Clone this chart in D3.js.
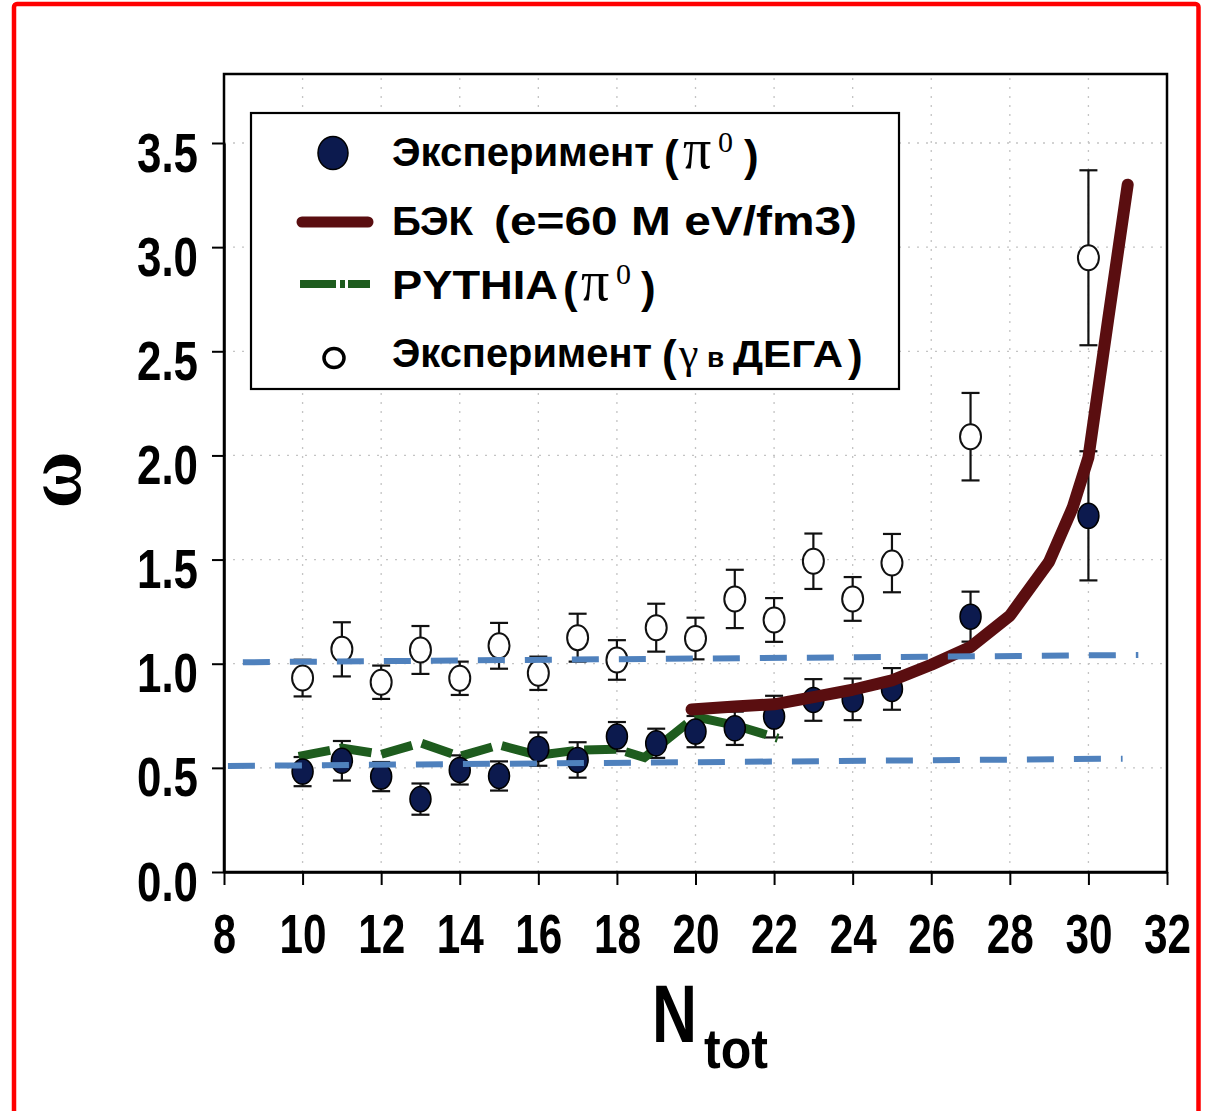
<!DOCTYPE html>
<html><head><meta charset="utf-8">
<script src="https://cdnjs.cloudflare.com/ajax/libs/d3/7.8.5/d3.min.js"></script>
<style>
html,body{margin:0;padding:0;background:#fff;}
svg{display:block;}
text{font-family:"Liberation Sans",Arial,sans-serif;font-weight:bold;fill:#000;}
</style></head>
<body>
<script>
// ---- data ----
const nTot = [10,11,12,13,14,15,16,17,18,19,20,21,22,23,24,25,27,30];
const omegaPi0 = [0.482,0.534,0.458,0.350,0.490,0.461,0.590,0.538,0.650,0.618,0.674,0.690,0.746,0.826,0.829,0.879,1.226,1.710];
const errPi0   = [0.07,0.095,0.07,0.075,0.07,0.07,0.08,0.085,0.07,0.07,0.075,0.08,0.10,0.10,0.10,0.10,0.12,0.31];
const omegaGamma = [0.931,1.069,0.911,1.066,0.930,1.086,0.954,1.125,1.018,1.173,1.121,1.311,1.210,1.492,1.311,1.483,2.090,2.949];
const errGamma   = [0.088,0.13,0.08,0.115,0.08,0.11,0.08,0.115,0.095,0.115,0.10,0.14,0.105,0.133,0.105,0.14,0.21,0.42];
const becX = [19.9,21,22,23,24,25,26,27,28,29,29.6,30,30.5,31];
const becY = [0.78,0.795,0.805,0.84,0.875,0.92,0.995,1.08,1.23,1.49,1.75,1.99,2.65,3.30];
const pythiaX = [9.9,11,12,13,14,15,16,17,18,18.7,20,21,22.1];
const pythiaY = [0.555,0.595,0.565,0.62,0.555,0.61,0.56,0.585,0.59,0.55,0.745,0.705,0.642];
const refUpperX = [8.48,31.27], refUpperY = [1.007,1.042];
const refLowerX = [8.10,30.87], refLowerY = [0.509,0.544];
const xTicks = [8,10,12,14,16,18,20,22,24,26,28,30,32];
const yTicks = [0,0.5,1.0,1.5,2.0,2.5,3.0,3.5];

// ---- drawing ----
const W=1208,H=1111;
const svg=d3.select("body").append("svg").attr("width",W).attr("height",H);
const x=d3.scaleLinear().domain([8,32]).range([224,1167]);
const y=d3.scaleLinear().domain([0,3.5]).range([872,143]);

// red border
svg.append("rect").attr("x",14).attr("y",4).attr("width",1184.5).attr("height",1200)
  .attr("rx",3).attr("fill","none").attr("stroke","#ff0000").attr("stroke-width",4.5);

// grid
const grid=svg.append("g").attr("stroke","#c4c4c4").attr("stroke-width",1.3).attr("stroke-dasharray","2,7");
grid.selectAll(".vg").data(xTicks.filter(d=>d>8&&d<32)).join("line")
  .attr("x1",d=>x(d)).attr("x2",d=>x(d)).attr("y1",y(3.5)-65).attr("y2",y(0));
grid.selectAll(".hg").data(yTicks.filter(d=>d>0)).join("line")
  .attr("x1",x(8)).attr("x2",x(32)).attr("y1",d=>y(d)).attr("y2",d=>y(d));

// frame
svg.append("rect").attr("x",224).attr("y",74).attr("width",943).attr("height",798)
  .attr("fill","none").attr("stroke","#000").attr("stroke-width",2.5);

// axes
const ya=svg.append("g").attr("transform","translate(224,0)")
  .call(d3.axisLeft(y).tickValues(yTicks).tickFormat(d3.format(".1f")).tickSize(12).tickSizeOuter(0));
ya.select(".domain").attr("stroke-width",2.5);
ya.selectAll(".tick line").attr("stroke-width",2);
ya.selectAll(".tick text").attr("x",-26).attr("dy",null).attr("y",28)
  .style("font-size","56px").style("font-family","Liberation Sans, Arial, sans-serif").style("font-weight","bold")
  .attr("text-anchor","end").attr("textLength",61).attr("lengthAdjust","spacingAndGlyphs");

const xa=svg.append("g").attr("transform","translate(0,872)")
  .call(d3.axisBottom(x).tickValues(xTicks).tickFormat(d3.format("d")).tickSize(13).tickSizeOuter(0));
xa.select(".domain").attr("stroke-width",2.5);
xa.selectAll(".tick line").attr("stroke-width",2);
xa.selectAll(".tick text").attr("dy",null).attr("y",81)
  .style("font-size","56px").style("font-family","Liberation Sans, Arial, sans-serif").style("font-weight","bold")
  .attr("textLength",d=>String(d).length===1?23:47).attr("lengthAdjust","spacingAndGlyphs");

// axis titles
svg.append("text").attr("transform","translate(80,480) rotate(-90)").attr("text-anchor","middle")
  .style("font-size","78px").style("font-family","Liberation Serif, DejaVu Serif, serif").text("ω");
svg.append("text").attr("x",652).attr("y",1042).style("font-size","81px")
  .attr("textLength",45).attr("lengthAdjust","spacingAndGlyphs").text("N");
svg.append("text").attr("x",704).attr("y",1068).style("font-size","56px")
  .attr("textLength",64).attr("lengthAdjust","spacingAndGlyphs").text("tot");

// error bars
function errBars(vals,errs){
  const g=svg.append("g").attr("stroke","#111").attr("stroke-width",2.2);
  nTot.forEach((n,i)=>{
    const cx=x(n),t=y(vals[i]+errs[i]),b=y(vals[i]-errs[i]);
    g.append("line").attr("x1",cx).attr("x2",cx).attr("y1",t).attr("y2",b);
    g.append("line").attr("x1",cx-9).attr("x2",cx+9).attr("y1",t).attr("y2",t);
    g.append("line").attr("x1",cx-9).attr("x2",cx+9).attr("y1",b).attr("y2",b);
  });
}
errBars(omegaGamma,errGamma);
errBars(omegaPi0,errPi0);

// open markers
svg.append("g").selectAll("ellipse").data(nTot).join("ellipse")
  .attr("cx",d=>x(d)).attr("cy",(d,i)=>y(omegaGamma[i])).attr("rx",10.5).attr("ry",12.5)
  .attr("fill","#fff").attr("stroke","#111").attr("stroke-width",2);

// PYTHIA line
const line=d3.line().x(d=>x(d[0])).y(d=>y(d[1]));
svg.append("path").datum(pythiaX.map((v,i)=>[v,pythiaY[i]])).attr("d",line)
  .attr("fill","none").attr("stroke","#1e5c1e").attr("stroke-width",9).attr("stroke-dasharray","32,10");

// filled markers
svg.append("g").selectAll("ellipse").data(nTot).join("ellipse")
  .attr("cx",d=>x(d)).attr("cy",(d,i)=>y(omegaPi0[i])).attr("rx",10.5).attr("ry",12.5)
  .attr("fill","#0c1a4e").attr("stroke","#000").attr("stroke-width",1.5);

// BEC line
svg.append("path").datum(becX.map((v,i)=>[v,becY[i]])).attr("d",line)
  .attr("fill","none").attr("stroke","#5a0e10").attr("stroke-width",12)
  .attr("stroke-linecap","round").attr("stroke-linejoin","round");

// reference dashed lines
[[refUpperX,refUpperY],[refLowerX,refLowerY]].forEach(([xs,ys])=>{
  svg.append("path").datum(xs.map((v,i)=>[v,ys[i]])).attr("d",line)
    .attr("fill","none").attr("stroke","#4f81bd").attr("stroke-width",6).attr("stroke-dasharray","27,20");
});

// legend
const lg=svg.append("g");
lg.append("rect").attr("x",251).attr("y",113).attr("width",648).attr("height",276)
  .attr("fill","#fff").attr("stroke","#000").attr("stroke-width",2.2);
lg.append("ellipse").attr("cx",333).attr("cy",153).attr("rx",15).attr("ry",16.5)
  .attr("fill","#0c1a4e").attr("stroke","#000").attr("stroke-width",1.5);
lg.append("line").attr("x1",302).attr("x2",368).attr("y1",222).attr("y2",222)
  .attr("stroke","#5a0e10").attr("stroke-width",11).attr("stroke-linecap","round");
lg.append("line").attr("x1",300).attr("x2",370).attr("y1",284).attr("y2",284)
  .attr("stroke","#1e5c1e").attr("stroke-width",8).attr("stroke-dasharray","36,4,5,3,30");
lg.append("ellipse").attr("cx",334).attr("cy",358).attr("rx",10).attr("ry",9.5)
  .attr("fill","#fff").attr("stroke","#000").attr("stroke-width",3.5);

function t(xp,yp,str,size,len,fam,weight){
  const e=lg.append("text").attr("x",xp).attr("y",yp).style("font-size",size+"px").text(str);
  if(len) e.attr("textLength",len).attr("lengthAdjust","spacingAndGlyphs");
  if(fam) e.style("font-family",fam);
  if(weight) e.style("font-weight",weight);
  return e;
}
const serif="Liberation Serif, DejaVu Serif, serif";
// row 1
t(392,166,"Эксперимент",40,262);
t(664,171,"(",44,null);
t(683,168,"π",56,null,serif,"normal");
t(718,152,"0",30,null,serif,"normal");
t(744,171,")",44,null);
// row 2
t(392,235,"БЭК",40,81);
t(494,235,"(e=60 M eV/fm3)",40,363);
// row 3
t(392,299,"PYTHIA",40,166);
t(563,303,"(",44,null);
t(581,300,"π",56,null,serif,"normal");
t(616,284,"0",30,null,serif,"normal");
t(641,303,")",44,null);
// row 4
t(392,367,"Эксперимент",40,260);
t(662,371,"(",44,null);
t(679,368,"γ",44,null,serif,"normal");
t(707,367,"в",28,null);
t(733,367,"ДЕГА",36,110);
t(848,371,")",44,null);
</script>
</body></html>
